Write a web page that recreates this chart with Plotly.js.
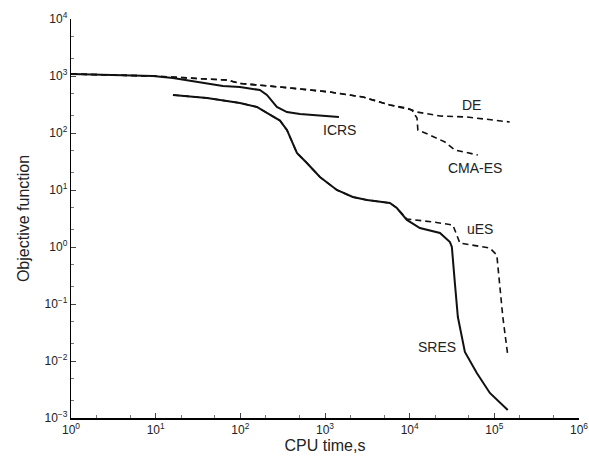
<!DOCTYPE html>
<html>
<head>
<meta charset="utf-8">
<script src="https://cdn.plot.ly/plotly-3.0.1.min.js"></script>
<style>html,body{margin:0;padding:0;background:#fff;}#chart{width:589px;height:466px;}</style>
</head>
<body>
<div id="chart"></div>
<script>
// CPU time (s) and objective function values
const icrsX = [1, 9.29, 16.0, 40.4, 62.2, 98.9, 170, 206, 270, 355, 506, 1460];
const icrsY = [1084, 1000, 923, 754, 668, 641, 568, 465, 286, 233, 215, 191];

const deX = [1, 9.29, 40.4, 69.5, 98.9, 243, 294, 1140, 2800, 5830, 9270, 12200, 22800, 47300, 152000];
const deY = [1084, 1000, 885, 851, 740, 668, 641, 524, 428, 310, 275, 233, 199, 191, 156];

const cmaX = [1, 9.29, 40.4, 69.5, 98.9, 243, 294, 1140, 2800, 5830, 10600, 12200, 12500, 17300, 26100, 34200, 63800];
const cmaY = [1084, 1000, 885, 851, 740, 668, 641, 524, 428, 310, 254, 183, 113, 92.2, 69.5, 50.4, 41.1];

const sresX = [16.0, 40.4, 98.9, 157, 206, 270, 294, 355, 385, 466, 611, 871, 1380, 2130, 3130, 5830, 7060, 9270, 13200, 22800, 29900, 31500, 34200, 37100, 44900, 62100, 88500, 144000];
const sresY = [465, 411, 336, 286, 225, 180, 165, 113, 85, 44.6, 29.8, 16.9, 10.0, 7.53, 6.68, 5.92, 4.83, 2.98, 2.15, 1.76, 1.22, 1.0, 0.233, 0.059, 0.0144, 0.00615, 0.00275, 0.00138];

const uesX = [16.0, 40.4, 98.9, 157, 206, 270, 294, 355, 385, 466, 611, 871, 1380, 2130, 3130, 5830, 7060, 9270, 18800, 32400, 39200, 88500, 107000, 116000, 126000, 144000];
const uesY = [465, 411, 336, 286, 225, 180, 165, 113, 85, 44.6, 29.8, 16.9, 10.0, 7.53, 6.68, 5.92, 4.83, 3.10, 2.75, 2.43, 1.17, 0.96, 0.72, 0.199, 0.059, 0.0127];

const seriesNames = ["ICRS", "DE", "CMA-ES", "uES", "SRES"];
const xTickVals = [1, 10, 100, 1000, 10000, 100000, 1000000];
const xTickText = ["10<sup>0</sup>", "10<sup>1</sup>", "10<sup>2</sup>", "10<sup>3</sup>", "10<sup>4</sup>", "10<sup>5</sup>", "10<sup>6</sup>"];
const yTickVals = [0.001, 0.01, 0.1, 1, 10, 100, 1000, 10000];
const yTickText = ["10<sup>\u22123</sup>", "10<sup>\u22122</sup>", "10<sup>\u22121</sup>", "10<sup>0</sup>", "10<sup>1</sup>", "10<sup>2</sup>", "10<sup>3</sup>", "10<sup>4</sup>"];

// label anchor positions (data units)
const labelX = [1500, 54000, 59000, 67000, 21000];
const labelY = [113, 309, 24.3, 2.07, 0.0176];

const ink = "#111";
const traces = [
  {x: deX, y: deY, mode: "lines", line: {color: ink, width: 1.6, dash: "6px,4px"}},
  {x: cmaX, y: cmaY, mode: "lines", line: {color: ink, width: 1.6, dash: "6px,4px"}},
  {x: uesX, y: uesY, mode: "lines", line: {color: ink, width: 1.6, dash: "6px,4px"}},
  {x: icrsX, y: icrsY, mode: "lines", line: {color: ink, width: 2}},
  {x: sresX, y: sresY, mode: "lines", line: {color: ink, width: 2}}
];

const fontF = "Liberation Sans, Arial, sans-serif";
const annotations = seriesNames.map((n, i) => ({
  x: Math.log10(labelX[i]), y: Math.log10(labelY[i]), xref: "x", yref: "y",
  text: n, showarrow: false, font: {family: fontF, size: 14, color: "#222"}
}));

const layout = {
  width: 589, height: 466,
  margin: {l: 71, r: 10, t: 19, b: 48},
  paper_bgcolor: "#fff", plot_bgcolor: "#fff",
  showlegend: false,
  font: {family: fontF, size: 12, color: "#222"},
  xaxis: {
    type: "log", range: [0, 6], showgrid: false, zeroline: false,
    showline: true, linecolor: "#000", linewidth: 1.5, mirror: false,
    ticks: "inside", ticklen: 5, tickcolor: "#444",
    tickvals: xTickVals, ticktext: xTickText,
    minor: {ticks: "inside", ticklen: 3, tickcolor: "#777", showgrid: false},
    tickfont: {size: 12, family: fontF},
    title: {text: "CPU time,s", font: {size: 16, family: fontF, color: "#222"}, standoff: 2}
  },
  yaxis: {
    type: "log", range: [-3, 4], showgrid: false, zeroline: false,
    showline: true, linecolor: "#000", linewidth: 1.2, mirror: false,
    ticks: "inside", ticklen: 5, tickcolor: "#444",
    tickvals: yTickVals, ticktext: yTickText,
    minor: {ticks: "inside", ticklen: 3, tickcolor: "#777", showgrid: false},
    tickfont: {size: 12, family: fontF},
    title: {text: "Objective function", font: {size: 16, family: fontF, color: "#222"}, standoff: 10}
  },
  annotations: annotations
};

Plotly.newPlot("chart", traces, layout, {staticPlot: true, displayModeBar: false});
</script>
</body>
</html>
